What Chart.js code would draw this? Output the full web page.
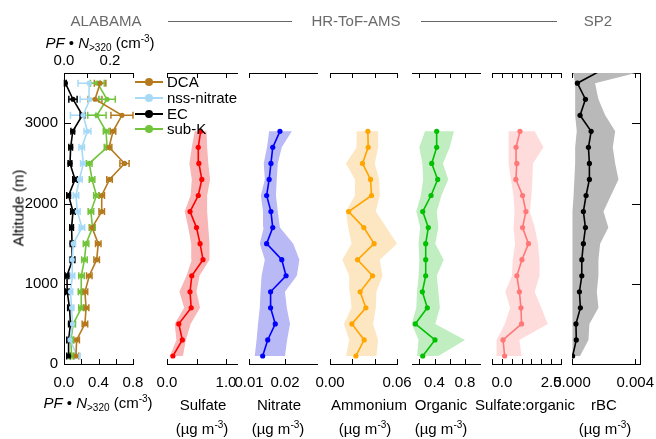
<!DOCTYPE html>
<html><head><meta charset="utf-8">
<script src="https://cdn.jsdelivr.net/npm/chart.js@4.4.1/dist/chart.umd.min.js"></script>
<style>
html,body{margin:0;padding:0;background:#fff;overflow:hidden;}
#wrap{position:relative;width:656px;height:439px;font-family:"Liberation Sans",Arial,Helvetica,sans-serif;font-size:15px;color:#000;}
canvas{position:absolute;top:0;}
.t{position:absolute;white-space:nowrap;transform:translate(-50%,-50%);line-height:1;color:#000;font-weight:normal;}
.t.g{color:#6a6a6a;}
sup{font-size:10px;vertical-align:6px;line-height:0;}
sub{font-size:10px;vertical-align:-3px;line-height:0;}
.hl{position:absolute;height:1px;background:#666;}
.lg{position:absolute;left:135px;width:120px;height:16px;white-space:nowrap;}
.lg .ln{position:absolute;left:0;top:7px;width:28px;height:2px;}
.lg .dt{position:absolute;left:10px;top:4px;width:8px;height:8px;border-radius:50%;}
.lg .tx{position:absolute;left:32px;top:0;line-height:16px;white-space:nowrap;}
</style></head><body><div id="wrap"></div>
<script>
// ---------------- DATA ----------------
const altAlabama = [100,300,500,700,900,1100,1300,1500,1700,1900,2100,2300,2500,2700,2900,3100,3300,3500];
const dcaValues   = [0.052,0.055,0.091,0.096,0.091,0.110,0.142,0.149,0.122,0.164,0.164,0.198,0.263,0.196,0.213,0.252,0.135,0.157];
const dcaErrors   = [0.012,0.012,0.012,0.012,0.012,0.012,0.012,0.012,0.012,0.012,0.012,0.012,0.020,0.012,0.012,0.048,0.030,0.025];
const nssValues   = [0.058,0.026,0.037,0.033,0.028,0.037,0.036,0.040,0.078,0.058,0.052,0.067,0.084,0.077,0.102,0.083,0.113,0.109];
const nssErrors   = [0.012,0.010,0.010,0.010,0.010,0.010,0.012,0.010,0.012,0.012,0.012,0.012,0.012,0.012,0.015,0.055,0.043,0.048];
const ecValues    = [0.020,0.020,0.028,0.024,0.014,0.013,0.037,0.035,0.033,0.039,0.020,0.048,0.026,0.029,0.038,0.080,0.039,0.006];
const ecErrors    = [0.008,0.008,0.008,0.008,0.008,0.008,0.010,0.008,0.008,0.010,0.008,0.010,0.008,0.008,0.008,0.010,0.018,0.004];
const subkValues  = [0.033,0.030,0.040,0.076,0.074,0.076,0.089,0.096,0.124,0.117,0.141,0.122,0.110,0.187,0.183,0.143,0.187,0.145];
const subkErrors  = [0.010,0.010,0.010,0.012,0.012,0.012,0.012,0.012,0.012,0.012,0.012,0.012,0.012,0.012,0.012,0.040,0.036,0.030];

const altAms = [100,300,500,700,900,1100,1300,1500,1700,1900,2100,2300,2500,2700,2900];
const sulfateValues = [0.10,0.26,0.20,0.41,0.39,0.42,0.61,0.56,0.50,0.39,0.53,0.59,0.54,0.53,0.57];
const sulfateLow    = [0.05,0.16,0.13,0.29,0.21,0.33,0.42,0.41,0.36,0.30,0.40,0.42,0.38,0.42,0.47];
const sulfateHigh   = [0.27,0.32,0.40,0.56,0.50,0.55,0.72,0.72,0.70,0.68,0.68,0.73,0.70,0.68,0.67];
const nitrateValues = [0.0138,0.0152,0.0173,0.0160,0.0160,0.0203,0.0191,0.0149,0.0166,0.0161,0.0149,0.0156,0.0161,0.0166,0.0186];
const nitrateLow    = [0.0116,0.0121,0.0125,0.0130,0.0132,0.0135,0.0144,0.0130,0.0141,0.0139,0.0133,0.0144,0.0141,0.0150,0.0156];
const nitrateHigh   = [0.0200,0.0206,0.0214,0.0205,0.0200,0.0233,0.0240,0.0223,0.0186,0.0180,0.0175,0.0177,0.0180,0.0191,0.0219];
const ammoniumValues= [0.0232,0.0306,0.0196,0.0321,0.0270,0.0381,0.0247,0.0395,0.0303,0.0167,0.0372,0.0363,0.0291,0.0342,0.0339];
const ammoniumLow   = [0.0143,0.0172,0.0125,0.0193,0.0178,0.0172,0.0110,0.0193,0.0163,0.0143,0.0223,0.0223,0.0143,0.0238,0.0238];
const ammoniumHigh  = [0.0416,0.0431,0.0386,0.0410,0.0416,0.0470,0.0446,0.0600,0.0505,0.0410,0.0446,0.0440,0.0401,0.0431,0.0431];
const organicValues = [0.245,0.406,0.148,0.305,0.240,0.284,0.284,0.284,0.318,0.245,0.354,0.441,0.363,0.428,0.428];
const organicLow    = [0.17,0.19,0.10,0.16,0.17,0.19,0.20,0.19,0.21,0.16,0.22,0.25,0.24,0.20,0.275];
const organicHigh   = [0.45,0.80,0.41,0.47,0.45,0.43,0.52,0.41,0.45,0.43,0.49,0.58,0.51,0.60,0.655];
const ratioValues   = [0.14,0.06,1.00,0.97,0.89,0.76,1.02,1.35,1.05,1.22,1.05,0.71,0.76,0.72,0.92];
const ratioLow      = [-0.27,-0.27,0.15,0.42,0.17,0.51,0.55,0.67,0.59,0.64,0.59,0.46,0.34,0.34,0.34];
const ratioHigh     = [1.00,0.89,2.33,2.00,1.67,1.91,1.91,1.83,1.67,1.42,1.50,1.55,1.58,2.11,1.67];

const altSp2 = [100,300,500,700,900,1100,1300,1500,1700,1900,2100,2300,2500,2700,2900,3100,3300,3500,3700];
const rbcValues = [0.00004,0.00027,0.00025,0.00053,0.00047,0.00062,0.00062,0.00072,0.00085,0.00072,0.00089,0.00110,0.00110,0.00104,0.00121,0.00051,0.00085,0.00034,0.00222];
const rbcLow    = [0,0.00003,0.00003,0.00003,0.00003,0.00003,0.00003,0.00003,0.00003,0.00003,0.0001,0.00015,0.0002,0.0002,0.0003,0.0002,0.0002,0.0002,0];
const rbcHigh   = [0.00051,0.00104,0.00110,0.00167,0.00157,0.00167,0.00167,0.00178,0.00230,0.00199,0.00246,0.00294,0.00273,0.00258,0.00273,0.00210,0.00167,0.00146,0.0055];

// tick values / labels
const altitudeTicks = [0,1000,2000,3000];
const pfBottomTicks = [0,0.2,0.4,0.6,0.8], pfBottomLabels = [0,0.4,0.8];
const pfTopTicks = [0,0.1,0.2,0.3], pfTopLabels = [0,0.2];
const sulfateTicks = [0,0.5,1.0], sulfateLabels = [0,1.0];
const nitrateTicks = [0.01,0.02], nitrateLabels = [0.01,0.02];
const ammoniumTicks = [0,0.02,0.04,0.06], ammoniumLabels = [0,0.06];
const organicTicks = [0.2,0.4,0.6,0.8], organicLabels = [0.4,0.8];
const ratioTicks = [-0.5,0,0.5,1,1.5,2,2.5,3], ratioLabels = [0,2.5];
const rbcTicks = [0,0.004], rbcLabels = [0,0.004];

// ---------------- DRAWING ----------------
const FONT = '"Liberation Sans", Arial, Helvetica, sans-serif';
const ALT_MAX = 3627;
const wrap = document.getElementById('wrap');
const hasVal = (arr,v)=>arr.some(a=>Math.abs(a-v)<1e-9);

function hAxis(position,min,max,tickVals,labelVals,digits,height,pad,border=true){
  return {type:'linear',position,min,max,
    grid:{display:false,drawTicks:false},
    border:{display:border,color:'#000',width:1},
    afterBuildTicks:s=>{s.ticks=tickVals.map(v=>({value:v}));},
    afterFit:s=>{s.height=height;s.paddingLeft=0;s.paddingRight=0;},
    ticks:{display:labelVals.length>0,autoSkip:false,maxRotation:0,minRotation:0,padding:pad,color:'#000',
      font:{family:FONT,size:15},callback:v=>hasVal(labelVals,v)?Number(v).toFixed(digits):''}};
}
function vAxis(position,width,showLabels,border){
  return {type:'linear',position,min:0,max:ALT_MAX,
    grid:{display:false,drawTicks:false},
    border:{display:border,color:'#000',width:1},
    afterBuildTicks:s=>{s.ticks=altitudeTicks.map(v=>({value:v}));},
    afterFit:s=>{s.width=width;s.paddingTop=0;s.paddingBottom=0;},
    ticks:{display:showLabels,autoSkip:false,padding:6,color:'#000',font:{family:FONT,size:15},callback:v=>String(v)}};
}
function tickPlugin(lens){
  return {id:'inwardTicks',afterDraw(chart){
    const ctx=chart.ctx;ctx.save();ctx.strokeStyle='#000';ctx.lineWidth=1;ctx.beginPath();
    for(const id in lens){
      const s=chart.scales[id],L=lens[id];if(!s||!L)continue;
      for(const t of s.ticks){
        const p=Math.round(s.getPixelForValue(t.value))+0.5;
        if(s.isHorizontal()){
          if(s.position==='bottom'){ctx.moveTo(p,s.top);ctx.lineTo(p,s.top-L);}
          else{ctx.moveTo(p,s.bottom);ctx.lineTo(p,s.bottom+L);}
        }else{
          if(s.position==='left'){ctx.moveTo(s.right,p);ctx.lineTo(s.right+L,p);}
          else{ctx.moveTo(s.left,p);ctx.lineTo(s.left-L,p);}
        }
      }
    }
    ctx.stroke();ctx.restore();
  }};
}
const errPlugin={id:'errBars',beforeDatasetsDraw(chart){
  const ctx=chart.ctx;ctx.save();
  chart.data.datasets.forEach((ds,i)=>{
    if(!ds.errorValues)return;
    const meta=chart.getDatasetMeta(i);
    const xs=chart.scales[meta.xAxisID],ys=chart.scales[meta.yAxisID];
    ctx.strokeStyle=ds.borderColor;ctx.lineWidth=1.5;
    ds.data.forEach((pt,j)=>{
      const e=ds.errorValues[j],y=ys.getPixelForValue(pt.y);
      const x1=xs.getPixelForValue(pt.x-e),x2=xs.getPixelForValue(pt.x+e);
      ctx.beginPath();ctx.moveTo(x1,y);ctx.lineTo(x2,y);
      ctx.moveTo(x1,y-3.5);ctx.lineTo(x1,y+3.5);ctx.moveTo(x2,y-3.5);ctx.lineTo(x2,y+3.5);ctx.stroke();
    });
  });
  ctx.restore();
}};

const pts=(vals,alts)=>vals.map((v,i)=>({x:v,y:alts[i]}));
const poly=(lo,hi,alts)=>pts(lo,alts).concat(pts(hi,alts).reverse());
function profile(vals,alts,color,xid){
  return {data:pts(vals,alts),xAxisID:xid||'x',yAxisID:'y',borderColor:color,backgroundColor:color,
    borderWidth:1.6,pointRadius:2.6,pointBorderWidth:0,pointBackgroundColor:color,fill:false,tension:0};
}
function band(lo,hi,alts,color){
  return {data:poly(lo,hi,alts),xAxisID:'x',yAxisID:'y',borderWidth:0,borderColor:'rgba(0,0,0,0)',
    backgroundColor:color,pointRadius:0,fill:'shape',tension:0};
}
function makePanel(L,R,leftW,rightW,scales,datasets,lens,extra){
  const cv=document.createElement('canvas');
  const w=R-L+leftW+rightW;
  cv.width=w;cv.height=439;cv.style.left=(L-leftW)+'px';cv.style.width=w+'px';cv.style.height='439px';
  wrap.appendChild(cv);
  new Chart(cv,{type:'line',data:{datasets},
    options:{responsive:false,animation:false,events:[],layout:{padding:0},
      plugins:{legend:{display:false},tooltip:{enabled:false}},scales},
    plugins:[tickPlugin(lens)].concat(extra||[])});
}

// Panel 1 : ALABAMA
makePanel(64,133,64,20,{
  x:hAxis('bottom',0,0.8,pfBottomTicks,pfBottomLabels,1,75,10),
  x2:hAxis('top',0,0.3,pfTopTicks,pfTopLabels,1,73,3),
  y:vAxis('left',64,true,true),
  yR:vAxis('right',20,false,false)
},[
  Object.assign(profile(dcaValues,altAlabama,'#b57a1e','x2'),{errorValues:dcaErrors}),
  Object.assign(profile(nssValues,altAlabama,'#a6daf7','x2'),{errorValues:nssErrors}),
  Object.assign(profile(ecValues,altAlabama,'#000000','x2'),{errorValues:ecErrors}),
  Object.assign(profile(subkValues,altAlabama,'#72c43a','x2'),{errorValues:subkErrors})
],{x:5,x2:5,y:7},[errPlugin]);

// AMS panels
function amsPanel(L,R,min,max,ticks,labels,digits,vals,lo,hi,lineC,bandC){
  makePanel(L,R,20,20,{
    x:hAxis('bottom',min,max,ticks,labels,digits,75,10),
    x2:hAxis('top',min,max,ticks,[],digits,73,3),
    y:vAxis('left',20,false,false),
    yR:vAxis('right',20,false,false)
  },[profile(vals,altAms,lineC),band(lo,hi,altAms,bandC)],{x:5,x2:5});
}
amsPanel(167,237,0,1.186,sulfateTicks,sulfateLabels,1,sulfateValues,sulfateLow,sulfateHigh,'#ff0000','#f9b6b6');
amsPanel(249,317,0.01,0.0289,nitrateTicks,nitrateLabels,2,nitrateValues,nitrateLow,nitrateHigh,'#0000ff','#b9b9f5');
amsPanel(330,397,0,0.06,ammoniumTicks,ammoniumLabels,2,ammoniumValues,ammoniumLow,ammoniumHigh,'#ffa500','#fde6c2');
amsPanel(412,480,0.104,0.997,organicTicks,organicLabels,1,organicValues,organicLow,organicHigh,'#00c000','#c0eec0');
amsPanel(492,561,-0.5,3.0,ratioTicks,ratioLabels,1,ratioValues,ratioLow,ratioHigh,'#ff7777','#ffdcdc');

// SP2 panel
makePanel(572,640,20,16,{
  x:hAxis('bottom',0,0.0043,rbcTicks,rbcLabels,3,75,10),
  x2:hAxis('top',0,0.0043,rbcTicks,[],3,73,3),
  y:vAxis('left',20,false,false),
  yR:vAxis('right',16,false,true)
},[profile(rbcValues,altSp2,'#000000'),band(rbcLow,rbcHigh,altSp2,'#b9b9b9')],{x:5,x2:5,yR:8});

// ---------------- TEXT ----------------
const pf='<i>PF</i> &bull; <i>N</i><sub>&gt;320</sub> (cm<sup>-3</sup>)';
const ug='(&micro;g m<sup>-3</sup>)';
const texts=[
  ['ALABAMA',106,20,'g'],['HR-ToF-AMS',356,20,'g'],['SP2',598,20,'g'],
  [pf,100,42,''],[pf,98,402,''],
  ['Sulfate',203,404,''],[ug,202,428,''],
  ['Nitrate',279,404,''],[ug,278,428,''],
  ['Ammonium',369,404,''],[ug,365,428,''],
  ['Organic',441,404,''],[ug,441,428,''],
  ['Sulfate:organic',525,404,''],
  ['rBC',604,404,''],[ug,605,428,'']
];
texts.forEach(([h,x,y,c])=>{const d=document.createElement('div');d.className='t '+c;d.innerHTML=h;d.style.left=x+'px';d.style.top=y+'px';wrap.appendChild(d);});
const alt=document.createElement('div');alt.className='t';alt.textContent='Altitude (m)';
alt.style.left='18px';alt.style.top='208px';alt.style.transform='translate(-50%,-50%) rotate(-90deg)';wrap.appendChild(alt);
[[168,292],[421,557]].forEach(([a,b])=>{const l=document.createElement('div');l.className='hl';l.style.left=a+'px';l.style.width=(b-a)+'px';l.style.top='21px';wrap.appendChild(l);});
// legend
const legendItems=[['DCA','#b57a1e',82],['nss-nitrate','#a6daf7',97.5],['EC','#000000',113.5],['sub-K','#72c43a',129]];
legendItems.forEach(([name,col,y])=>{
  const g=document.createElement('div');g.className='lg';g.style.top=(y-8)+'px';
  g.innerHTML='<div class="ln" style="background:'+col+'"></div><div class="dt" style="background:'+col+'"></div><div class="tx">'+name+'</div>';
  wrap.appendChild(g);
});
</script></body></html>
